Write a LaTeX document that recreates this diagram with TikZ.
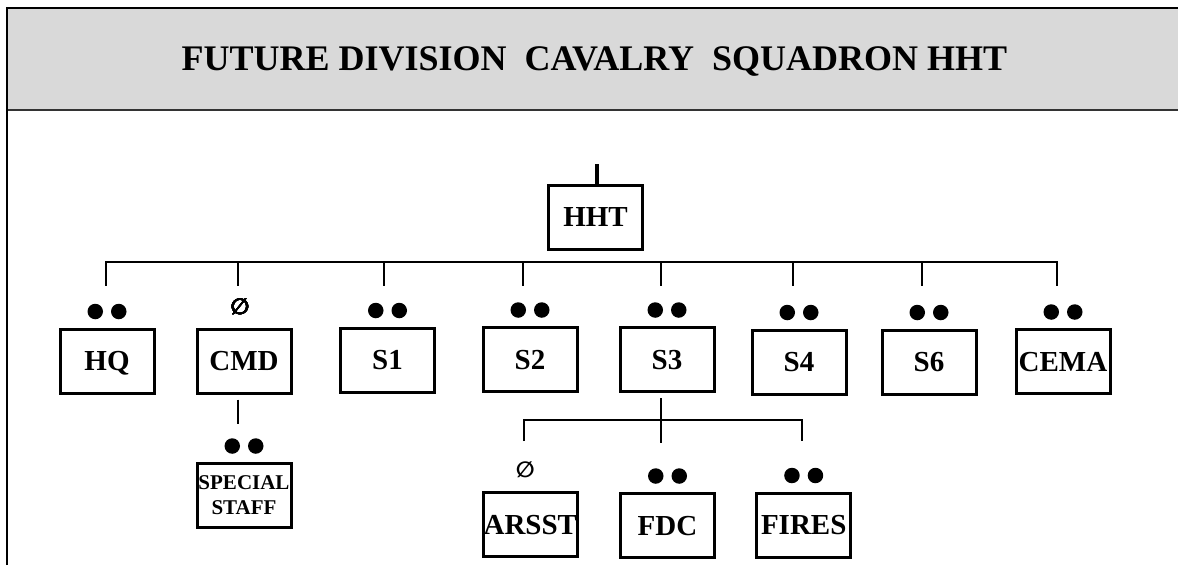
\documentclass[tikz,border=0pt]{standalone}
\usepackage{fontspec}
\setmainfont{Liberation Serif}
\newfontfamily\symfont{DejaVu Sans}

\definecolor{bandgray}{HTML}{D9D9D9}

\newcommand\unitfont{\bfseries\fontsize{29}{30}\selectfont}
\newcommand\stafffont{\bfseries\fontsize{21}{25}\selectfont}
% two dots over a box: section
\newcommand\secdots[1]{\fill (#1.north) ++(0,-16) ++(-11.75,0) circle (7.75pt) ++(23.5,0) circle (7.75pt);}

\begin{document}
\begin{tikzpicture}[x=1pt, y=-1pt,
	box/.style={draw, line width=3pt, minimum width=94pt, minimum height=64pt,
		inner sep=0pt},
	unit/.style={box, font=\unitfont, text height=19pt, text depth=0pt},
	link/.style={line width=2pt},
	team/.style={font=\symfont\bfseries\fontsize{22}{22}\selectfont, inner sep=0pt}]
	
	\useasboundingbox (0,0) rectangle (1178,565);
	
	% title band and frame
	\fill[bandgray] (7,8) rectangle (1178,109.5);
	\draw[line width=2pt, black!80] (7,109.5) -- (1178,109.5);
	\draw[line width=2.5pt] (7,565) -- (7,8) -- (1178,8);
	\node[font=\bfseries\fontsize{36}{40}\selectfont] (title) at (594.5,61.5)
		{FUTURE DIVISION\ \ CAVALRY\ \ SQUADRON HHT};
	
	% troop
	\node[unit] (hht) at (595.5,217) {HHT};
	\draw[line width=3.5pt] (hht.north) ++(1.5,0) -- ++(0,-20);
	
	% sections
	\node[unit] (hq) at (107,361) {HQ};
	\node[unit] (cmd) at (244,361) {CMD};
	\node[unit] (s1) at (387.5,360) {S1};
	\node[unit] (s2) at (530,359.5) {S2};
	\node[unit] (s3) at (667,359.5) {S3};
	\node[unit] (s4) at (799,362) {S4};
	\node[unit] (s6) at (929,362) {S6};
	\node[unit] (cema) at (1063,361.5) {CEMA};
	
	\draw[link] (hq.north) ++(-1,-42) |- ++(951,-23.7) -- ++(0,23.7);
	\foreach \u/\dx in {cmd/-6, s1/-3.5, s2/-7, s3/-6, s4/-6, s6/-7}
		\draw[link] (hq.north -| \u.north) ++(\dx,-42) -- ++(0,-23.7);
	
	\foreach \u in {hq, s1, s2, s3, s4, s6, cema}
		\secdots{\u}
	\node[team] (cmd-team) at ([xshift=-4pt, yshift=21pt]cmd.north) {∅};
	
	% special staff under CMD
	\node[box, font=\stafffont, align=center] (staff) at (244,495.5) {SPECIAL\\STAFF};
	\draw[link] (cmd.south) ++(-6,5) -- ++(0,24);
	\secdots{staff}
	
	% fires cell under S3
	\node[unit] (arsst) at (530.3,524.5) {ARSST};
	\node[unit] (fdc) at (667.5,525.5) {FDC};
	\node[unit] (fires) at (803.7,525) {FIRES};
	
	\draw[link] (s3.south) ++(-6,5) -- ++(0,45);
	\draw[link] (arsst.north) ++(-6,-50) |- ++(278,-21) -- ++(0,21);
	
	\node[team] (arsst-team) at ([xshift=-5pt, yshift=21pt]arsst.north) {∅};
	\secdots{fdc}
	\secdots{fires}
	
\end{tikzpicture}
\end{document}
